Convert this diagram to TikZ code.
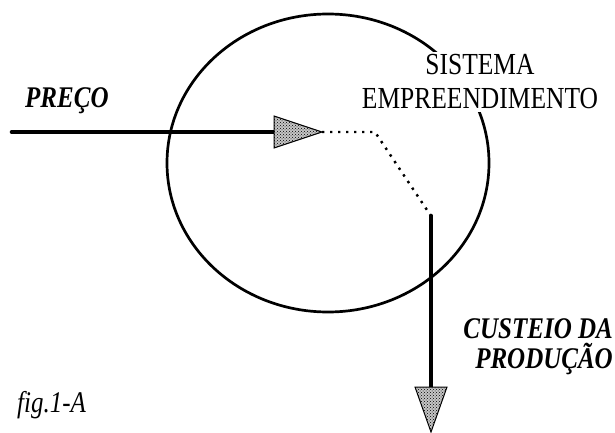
\documentclass[tikz,border=0pt]{standalone}
\usepackage{fontspec}
\setmainfont{Liberation Serif}
\usetikzlibrary{patterns,shapes.geometric}
\newcommand{\alto}[1]{\scalebox{1}[1.2]{#1}}

\begin{document}
\begin{tikzpicture}[x=1pt,y=-1pt]
  \tikzstyle{grosso}=[line width=4.6pt,line cap=round]
  \tikzstyle{ponta}=[draw,line width=1pt,fill=gray!45,postaction={pattern=crosshatch dots}]
  \tikzstyle{pontilhado}=[line width=2.4pt,dash pattern=on 2.4pt off 5.6pt]
  \tikzstyle{rotulo}=[font=\fontsize{25}{30}\selectfont\bfseries\itshape,inner sep=0pt]
  \useasboundingbox (0,0) rectangle (615,433);
  \node[draw,ellipse,line width=2.7pt,inner sep=0pt,minimum width=322pt,minimum height=298pt](empresa) at (328,163){};
  \node[fill=white,inner sep=3pt,align=center,font=\fontsize{25.5}{34}\selectfont](sistema) at (480,82){\alto{SISTEMA}\\\alto{EMPREENDIMENTO}};
  \coordinate (entrada) at (12,132);
  \coordinate (basein) at (274,132);
  \coordinate (pontain) at (322,132);
  \coordinate (dobra) at (375,132);
  \coordinate (saida) at (431,216);
  \coordinate (baseout) at (431,387);
  \coordinate (pontaout) at (431,432);
  \draw[grosso] (entrada) -- (basein);
  \path[ponta] (basein) ++(0,-16) -- (pontain) -- ++(-48,16) -- cycle;
  \draw[pontilhado] (pontain) -- (dobra) -- (saida);
  \draw[grosso] (saida) -- (baseout);
  \path[ponta] (baseout) ++(-16,0) -- (pontaout) -- ++(16,-45) -- cycle;
  \node[rotulo,anchor=base west](preco) at (25,108){\alto{PREÇO}};
  \node[rotulo,anchor=east,align=right](custeio) at (613,347){\alto{CUSTEIO DA}\\\alto{PRODUÇÃO}};
  \node[font=\fontsize{25}{25}\selectfont\itshape,anchor=base west,inner sep=0pt](fig) at (17,412){\alto{fig.1-A}};
\end{tikzpicture}
\end{document}
